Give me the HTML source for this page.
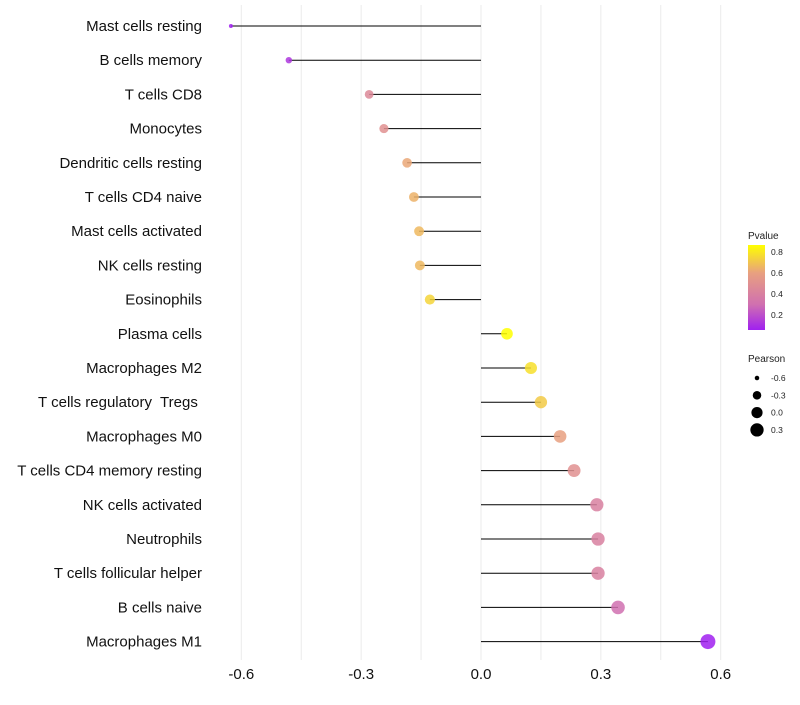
<!DOCTYPE html>
<html><head><meta charset="utf-8"><style>
body{margin:0;background:#fff;font-family:"Liberation Sans",sans-serif}
text{white-space:pre}
</style></head><body>
<svg id="chart" width="800" height="700" xmlns="http://www.w3.org/2000/svg"></svg>
<script>
const categories=["Mast cells resting","B cells memory","T cells CD8","Monocytes","Dendritic cells resting","T cells CD4 naive","Mast cells activated","NK cells resting","Eosinophils","Plasma cells","Macrophages M2","T cells regulatory  Tregs ","Macrophages M0","T cells CD4 memory resting","NK cells activated","Neutrophils","T cells follicular helper","B cells naive","Macrophages M1"];
const pearson=[-0.626,-0.481,-0.28,-0.243,-0.185,-0.168,-0.155,-0.153,-0.128,0.065,0.125,0.15,0.198,0.233,0.29,0.293,0.293,0.343,0.568];
const pvalue=[0.05,0.12,0.45,0.5,0.62,0.65,0.67,0.67,0.75,0.87,0.78,0.72,0.6,0.5,0.4,0.4,0.4,0.3,0.03];
const xTicks=[-0.6,-0.3,0,0.3,0.6];
const pTicks=[0.2,0.4,0.6,0.8];
const sizeTicks=[-0.6,-0.3,0.0,0.3];
const NS="http://www.w3.org/2000/svg";
const svg=document.getElementById('chart');
function mk(t,a,p){const e=document.createElementNS(NS,t);for(const k in a)e.setAttribute(k,a[k]);(p||svg).appendChild(e);return e;}
const x=v=>481+v*399.5;
const y=i=>26+i*34.2;
const stops=[[0.05,[160,32,240]],[0.3,[208,112,176]],[0.6,[232,160,128]],[0.87,[255,255,0]]];
function col(p){p=Math.max(0.05,Math.min(0.87,p));for(let i=0;i<stops.length-1;i++){const a=stops[i],b=stops[i+1];if(p<=b[0]){const t=(p-a[0])/(b[0]-a[0]);const c=a[1].map((v,j)=>Math.round(v+(b[1][j]-v)*t));return `rgb(${c})`;}}return 'rgb(255,255,0)';}
const pmin=-0.626,pmax=0.568;
const rad=v=>Math.sqrt(4+(v-pmin)/(pmax-pmin)*(56-4));
for(let v=-0.6;v<=0.61;v+=0.15){const g=mk('line',{x1:x(v),x2:x(v),y1:5,y2:660,stroke:'#ebebeb','stroke-width':1});

}
xTicks.forEach(v=>{const t=mk('text',{x:x(v),y:679,'text-anchor':'middle','font-size':15,fill:'#111'});t.textContent=v.toFixed(1);

});
categories.forEach((c,i)=>{
const t=mk('text',{x:202,y:y(i)+5,'text-anchor':'end','font-size':15,fill:'#111'});t.textContent=c;


const l=mk('line',{x1:x(0),x2:x(pearson[i]),y1:y(i),y2:y(i),stroke:'#000','stroke-width':1});


const d=mk('circle',{cx:x(pearson[i]),cy:y(i),r:rad(pearson[i]),fill:col(pvalue[i]),'fill-opacity':0.85});


});
const lt=mk('text',{x:748,y:239,'font-size':10,fill:'#222'});lt.textContent='Pvalue';


const defs=mk('defs',{});const gr=mk('linearGradient',{id:'pg',x1:0,y1:1,x2:0,y2:0},defs);
stops.forEach(s=>mk('stop',{offset:(s[0]-0.057)/(0.867-0.057),'stop-color':`rgb(${s[1]})`},gr));
const bar=mk('rect',{x:748,y:245,width:17,height:85,fill:'url(#pg)'});


pTicks.forEach(p=>{const yy=330-(p-0.057)/(0.81)*85;const t=mk('text',{x:771,y:yy+3,'font-size':8.5,fill:'#222'});t.textContent=p.toFixed(1);

});
const st=mk('text',{x:748,y:362,'font-size':10,fill:'#222'});st.textContent='Pearson';


sizeTicks.forEach((v,i)=>{const yy=378+i*17.3;const c=mk('circle',{cx:757,cy:yy,r:rad(v),fill:'#000'});


const t=mk('text',{x:771,y:yy+3,'font-size':8.5,fill:'#222'});t.textContent=v.toFixed(1);

});
</script>
</body></html>
